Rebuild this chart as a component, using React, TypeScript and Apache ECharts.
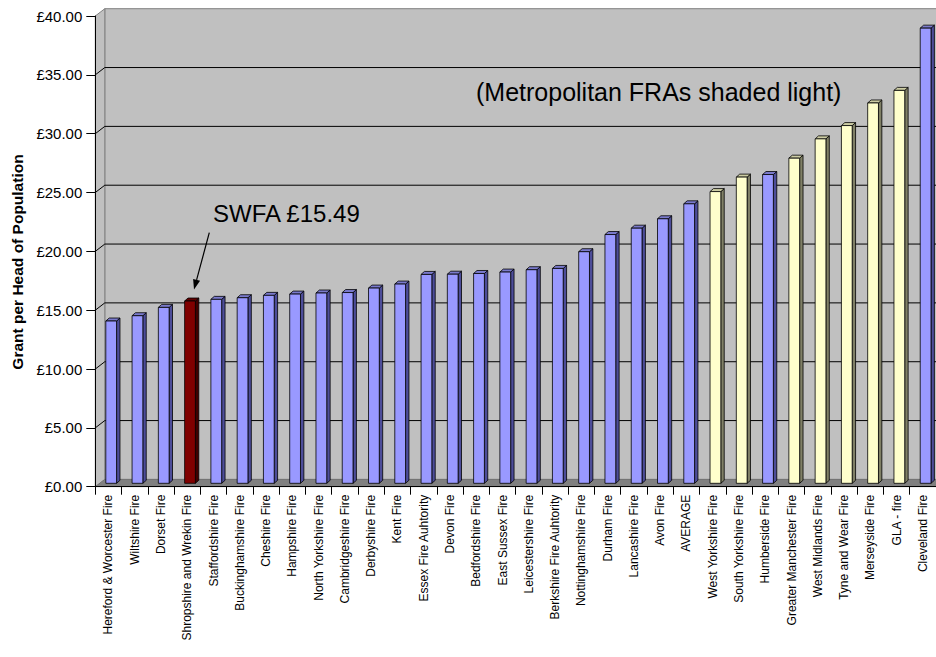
import React, { useEffect, useRef } from "react";
import * as echarts from "echarts";

// Fire & rescue authorities, ordered by grant per head
const categories = [
  "Hereford & Worcester Fire",
  "Wiltshire Fire",
  "Dorset Fire",
  "Shropshire and Wrekin Fire",
  "Staffordshire Fire",
  "Buckinghamshire Fire",
  "Cheshire Fire",
  "Hampshire Fire",
  "North Yorkshire Fire",
  "Cambridgeshire Fire",
  "Derbyshire Fire",
  "Kent Fire",
  "Essex Fire Auhtority",
  "Devon Fire",
  "Bedfordshire Fire",
  "East Sussex Fire",
  "Leicestershire Fire",
  "Berkshire Fire Auhtority",
  "Nottinghamshire Fire",
  "Durham Fire",
  "Lancashire Fire",
  "Avon Fire",
  "AVERAGE",
  "West Yorkshire Fire",
  "South Yorkshire Fire",
  "Humberside Fire",
  "Greater Manchester Fire",
  "West Midlands Fire",
  "Tyne and Wear Fire",
  "Merseyside Fire",
  "GLA - fire",
  "Cleveland Fire",
];

// Grant per head of population (£)
const grantPerHead = [
  13.79, 14.24, 14.95, 15.49, 15.63, 15.77, 15.97, 16.08, 16.17, 16.21, 16.59,
  16.93, 17.75, 17.77, 17.83, 17.95, 18.15, 18.26, 19.68, 21.14, 21.68, 22.48,
  23.75, 24.79, 26.02, 26.24, 27.63, 29.27, 30.4, 32.32, 33.39, 38.68,
];

const metropolitanFRAs = [
  "West Yorkshire Fire",
  "South Yorkshire Fire",
  "Greater Manchester Fire",
  "West Midlands Fire",
  "Tyne and Wear Fire",
  "Merseyside Fire",
  "GLA - fire",
];

const highlightedFRA = "Shropshire and Wrekin Fire";
const highlightLabel = "SWFA £15.49";
const noteLabel = "(Metropolitan FRAs shaded light)";
const yAxisTitle = "Grant per Head of Population";

const Y_MIN = 0;
const Y_MAX = 40;
const Y_STEP = 5;

// pseudo-3D depth of the plot box (pixels)
const DX = 9.5;
const DY = 7.3;
// bar placement inside the depth
const BAR_SHIFT_X = 2.75;
const BAR_SHIFT_Y = 3.4;
const BAR_DEPTH_X = 3.4;
const BAR_DEPTH_Y = 3.0;
const BAR_WIDTH = 0.41;

const FONT = 'Arial, "Liberation Sans", Helvetica, sans-serif';

const palette = {
  normal: { front: "#9999FF", side: "#4D4D99", top: "#7A7ACC" },
  metro: { front: "#FFFFCC", side: "#808066", top: "#CCCCA3" },
  highlight: { front: "#800000", side: "#400000", top: "#600000" },
};

function colorsFor(name: string) {
  if (name === highlightedFRA) return palette.highlight;
  if (metropolitanFRAs.includes(name)) return palette.metro;
  return palette.normal;
}

export default function App() {
  const ref = useRef<HTMLDivElement>(null);

  useEffect(() => {
    if (!ref.current) return;
    const chart = echarts.init(ref.current, undefined, { renderer: "svg" });

    const gridValues: number[] = [];
    for (let v = Y_MIN + Y_STEP; v < Y_MAX; v += Y_STEP) gridValues.push(v);

    // arrow from the highlight label down to its bar
    const tail = [209.3, 232.7];
    const tip = [194, 289.5];
    const dx = tip[0] - tail[0];
    const dy = tip[1] - tail[1];
    const len = Math.hypot(dx, dy);
    const ux = dx / len;
    const uy = dy / len;
    const headLen = 10;
    const headHalf = 3.6;
    const bx = tip[0] - ux * headLen;
    const by = tip[1] - uy * headLen;

    const option: any = {
      animation: false,
      backgroundColor: "#FFFFFF",
      grid: { left: 95.3, right: 0, top: 16, bottom: 170.3, containLabel: false },
      xAxis: {
        type: "category",
        data: categories,
        z: 5,
        axisLine: { show: true, lineStyle: { color: "#000000", width: 1 } },
        axisTick: {
          show: true,
          interval: 0,
          length: 8,
          lineStyle: { color: "#000000", width: 1 },
        },
        axisLabel: {
          interval: 0,
          rotate: 90,
          margin: 8,
          fontSize: 12,
          fontFamily: FONT,
          color: "#000000",
        },
        splitLine: { show: false },
      },
      yAxis: {
        type: "value",
        min: Y_MIN,
        max: Y_MAX,
        interval: Y_STEP,
        z: 5,
        axisLine: { show: true, lineStyle: { color: "#000000", width: 1 } },
        axisTick: { show: true, length: 9, lineStyle: { color: "#000000", width: 1 } },
        axisLabel: {
          margin: 13,
          fontSize: 15,
          fontFamily: FONT,
          color: "#000000",
          formatter: (v: number) => "£" + v.toFixed(2),
        },
        splitLine: { show: false },
      },
      series: [
        {
          // walls, floor and gridlines of the 3-D plot box
          type: "custom",
          silent: true,
          z: 1,
          data: [[0, 0]],
          renderItem: (params: any, api: any) => {
            const cs = params.coordSys;
            const x0 = cs.x;
            const x1 = cs.x + cs.width;
            const y = (v: number) => api.coord([0, v])[1];
            const yTop = y(Y_MAX);
            const yBot = y(Y_MIN);
            const children: any[] = [];
            // back wall
            children.push({
              type: "polygon",
              shape: {
                points: [
                  [x0 + DX, yTop - DY],
                  [x1 + DX, yTop - DY],
                  [x1 + DX, yBot - DY],
                  [x0 + DX, yBot - DY],
                ],
              },
              style: { fill: "#C0C0C0", stroke: "#808080", lineWidth: 1 },
            });
            // side wall
            children.push({
              type: "polygon",
              shape: {
                points: [
                  [x0, yTop],
                  [x0 + DX, yTop - DY],
                  [x0 + DX, yBot - DY],
                  [x0, yBot],
                ],
              },
              style: { fill: "#C0C0C0", stroke: "#808080", lineWidth: 1 },
            });
            // gridlines on side and back walls
            gridValues.forEach((v) => {
              const yy = y(v);
              children.push({
                type: "polyline",
                shape: {
                  points: [
                    [x0, yy],
                    [x0 + DX, yy - DY],
                    [x1 + DX, yy - DY],
                  ],
                },
                style: { stroke: "#000000", lineWidth: 1, fill: "none" },
              });
            });
            // floor
            children.push({
              type: "polygon",
              shape: {
                points: [
                  [x0, yBot],
                  [x0 + DX, yBot - DY],
                  [x1 + DX, yBot - DY],
                  [x1, yBot],
                ],
              },
              style: { fill: "#808080", stroke: "#606060", lineWidth: 0.5 },
            });
            return { type: "group", children };
          },
        },
        {
          // 3-D columns: front, side and top faces
          type: "custom",
          z: 2,
          data: grantPerHead.map((v, i) => [i, v]),
          renderItem: (params: any, api: any) => {
            const idx = api.value(0);
            const val = api.value(1);
            const top = api.coord([idx, val]);
            const base = api.coord([idx, Y_MIN]);
            const bw = api.size([1, 0])[0];
            const w = bw * BAR_WIDTH;
            const fl = top[0] - w / 2 + BAR_SHIFT_X;
            const fr = fl + w;
            const yt = top[1] - BAR_SHIFT_Y;
            const yb = base[1] - BAR_SHIFT_Y;
            const c = colorsFor(categories[idx]);
            const edge = { stroke: "#000000", lineWidth: 0.8 };
            return {
              type: "group",
              children: [
                {
                  type: "polygon",
                  shape: {
                    points: [
                      [fr, yt],
                      [fr + BAR_DEPTH_X, yt - BAR_DEPTH_Y],
                      [fr + BAR_DEPTH_X, yb - BAR_DEPTH_Y],
                      [fr, yb],
                    ],
                  },
                  style: { fill: c.side, ...edge },
                },
                {
                  type: "polygon",
                  shape: {
                    points: [
                      [fl, yt],
                      [fl + BAR_DEPTH_X, yt - BAR_DEPTH_Y],
                      [fr + BAR_DEPTH_X, yt - BAR_DEPTH_Y],
                      [fr, yt],
                    ],
                  },
                  style: { fill: c.top, ...edge },
                },
                {
                  type: "rect",
                  shape: { x: fl, y: yt, width: w, height: yb - yt },
                  style: { fill: c.front, ...edge },
                },
              ],
            };
          },
        },
      ],
      graphic: [
        {
          type: "text",
          x: 17,
          y: 262,
          rotation: Math.PI / 2,
          style: {
            text: yAxisTitle,
            fontSize: 15.5,
            fontWeight: "bold",
            fontFamily: FONT,
            fill: "#000000",
            align: "center",
            verticalAlign: "middle",
          },
        },
        {
          type: "text",
          x: 476,
          y: 92,
          z: 10,
          style: {
            text: noteLabel,
            fontSize: 25,
            fontFamily: FONT,
            fill: "#000000",
            align: "left",
            verticalAlign: "middle",
          },
        },
        {
          type: "text",
          x: 213,
          y: 213,
          z: 10,
          style: {
            text: highlightLabel,
            fontSize: 24,
            fontFamily: FONT,
            fill: "#000000",
            align: "left",
            verticalAlign: "middle",
          },
        },
        {
          type: "line",
          z: 10,
          shape: { x1: tail[0], y1: tail[1], x2: bx, y2: by },
          style: { stroke: "#000000", lineWidth: 1.2 },
        },
        {
          type: "polygon",
          z: 10,
          shape: {
            points: [
              [tip[0], tip[1]],
              [bx + uy * headHalf, by - ux * headHalf],
              [bx - uy * headHalf, by + ux * headHalf],
            ],
          },
          style: { fill: "#000000" },
        },
      ],
    };

    chart.setOption(option);
    return () => chart.dispose();
  }, []);

  return (
    <div
      ref={ref}
      style={{ position: "fixed", left: 0, top: 0, width: 936, height: 657 }}
    />
  );
}
